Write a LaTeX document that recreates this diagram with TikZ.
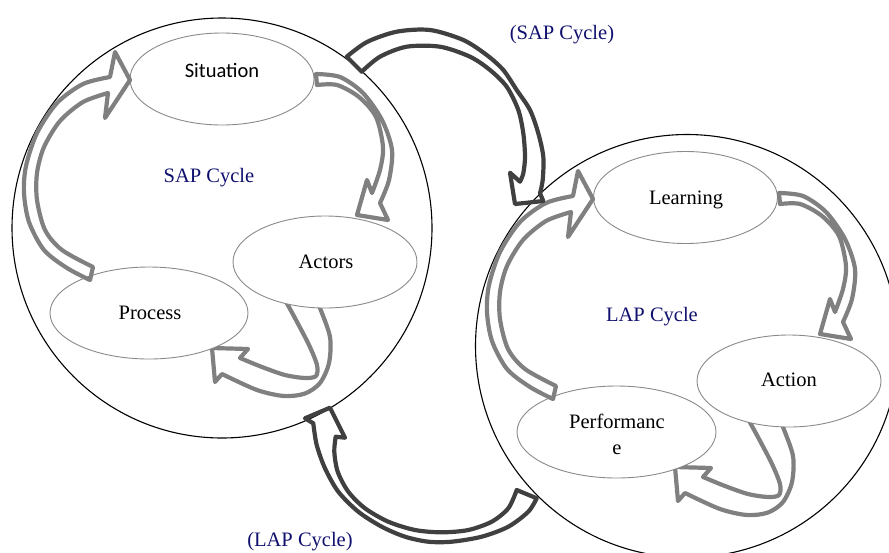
\documentclass[tikz,border=0pt]{standalone}
\usepackage{fontspec}
\setmainfont{Liberation Serif}
\newfontfamily\calibrifont{Carlito}
\usetikzlibrary{shapes.geometric}
\definecolor{arrgray}{HTML}{808080}
\definecolor{arrdark}{HTML}{404040}
\definecolor{ovalgray}{HTML}{8A8A8A}
\definecolor{cyclenavy}{HTML}{10106E}
\begin{document}
\begin{tikzpicture}[x=1pt,y=-1pt,
  bigring/.style={draw=black,line width=1.1pt},
  oval/.style={ellipse,draw=ovalgray,line width=0.9pt,fill=white,inner sep=0pt,outer sep=0pt,minimum height=92pt},
  grayarrow/.style={draw=arrgray,line width=4.2pt,line join=round},
  darkarrow/.style={draw=arrdark,line width=4.2pt,line join=round},
  lbl/.style={font=\fontsize{20.5}{26}\selectfont,inner sep=0pt,anchor=base},
  cyclelbl/.style={lbl,text=cyclenavy},
  upflow/.pic={
    \draw[grayarrow] plot[smooth] coordinates {(90,280) (67,268) (44,250) (29,222) (24,193) (26,166) (37,133) (57,103) (83,84) (110,77)}
      -- (115,52) -- (130,80) -- (105,118)
      -- plot[smooth] coordinates {(108,93) (83,102) (60,121) (44,147) (37,173) (37,200) (45,230) (62,250) (93,267)}
      -- cycle;
  },
  downflow/.pic={
    \draw[grayarrow] plot[smooth] coordinates {(316,74) (340,77) (363,93) (382,120) (392,150) (389,180) (380,203)}
      -- (388,220) -- (357,215) -- (367,180)
      -- plot[smooth] coordinates {(372,193) (380,170) (383,147) (376,117) (359,97) (337,85) (317,85)}
      -- cycle;
  },
  turnflow/.pic={
    \draw[grayarrow] plot[smooth] coordinates {(284,298) (296,320) (309,345) (317,365) (316,376) (305,378) (285,375) (262,367) (240,358)}
      -- (248,349) -- (212,348) -- (215,382)
      -- plot[smooth] coordinates {(222,374) (257,390) (284,396) (305,393.5) (320,383) (329,363) (330,337) (320,308) (316,298)}
      -- cycle;
  }
]
\useasboundingbox (0,0) rectangle (889,552);

% big circles
\node[circle,bigring,minimum size=420pt,inner sep=0pt] (sapRing) at (222,228) {};
\node[circle,bigring,minimum size=423pt,inner sep=0pt] (lapRing) at (687,346) {};

% arrows partly hidden under the ovals
\pic at (0,0) {turnflow};
\pic at (463,119) {turnflow};

% ovals
\node[oval,minimum width=184pt] (sitOval) at (222,79) {};
\node[oval,minimum width=184pt] (actOval) at (325,262) {};
\node[oval,minimum width=198pt] (procOval) at (149,313) {};
\node[oval,minimum width=184pt] (learnOval) at (685.5,197.5) {};
\node[oval,minimum width=184pt] (actionOval) at (789,381) {};
\node[oval,minimum width=199pt] (perfOval) at (616.5,432) {};

% inner cycle arrows
\pic at (0,0) {upflow};
\pic at (463,119) {upflow};
\pic at (0,0) {downflow};
\pic at (463,119) {downflow};

% big connecting arrows
\draw[darkarrow] plot[smooth] coordinates {(346.7,56.7) (367,42) (396.7,31.7) (430,30) (463.3,40) (486.7,55) (503.3,70) (516.7,90) (530,110) (538.3,133.3) (543.3,156.7) (542.7,180) (540,193.3)}
  -- (543.3,201) -- (515,204) -- (510,172.7)
  -- plot[smooth] coordinates {(520,181.7) (523.3,173.3) (525,156.7) (523.3,133.3) (518.3,110) (506.7,86.7) (490,70) (470,56.7) (440,46.7) (406.7,46.7) (380,56.7) (361.7,71.7)}
  -- cycle;
\draw[darkarrow] plot[smooth] coordinates {(536.7,498.3) (528.3,511.7) (508.3,526.7) (481.7,536.7) (451.7,541.7) (428.3,541.7) (405,536.7) (381.7,526.7) (358.3,511.7) (338.3,491.7) (325,468.3) (316.7,445) (313.3,423.3)}
  -- (305,418.3) -- (330,407.7) -- (345,437.7)
  -- plot[smooth] coordinates {(335.7,436.7) (334.3,451.7) (337.7,471.7) (348.3,491.7) (365,508.3) (388.3,521.7) (415,530) (441.7,532.3) (468.3,530) (491.7,521.7) (508.3,508.3) (516.7,490)}
  -- cycle;

% texts
\node[lbl] (sitText) at (222,77.3) {\calibrifont Situation};
\node[lbl] (actText) at (326,268.3) {Actors};
\node[lbl] (procText) at (150,319.3) {Process};
\node[cyclelbl] (sapText) at (209,182.7) {SAP Cycle};
\node[lbl] (learnText) at (686,204) {Learning};
\node[lbl] (actionText) at (789,386.7) {Action};
\node[lbl,anchor=center,align=center] (perfText) at (617,434.5) {Performanc\\e};
\node[cyclelbl] (lapText) at (652,321.7) {LAP Cycle};
\node[cyclelbl] (sapTop) at (562,39.3) {(SAP Cycle)};
\node[cyclelbl] (lapBottom) at (300,546) {(LAP Cycle)};
\end{tikzpicture}
\end{document}
